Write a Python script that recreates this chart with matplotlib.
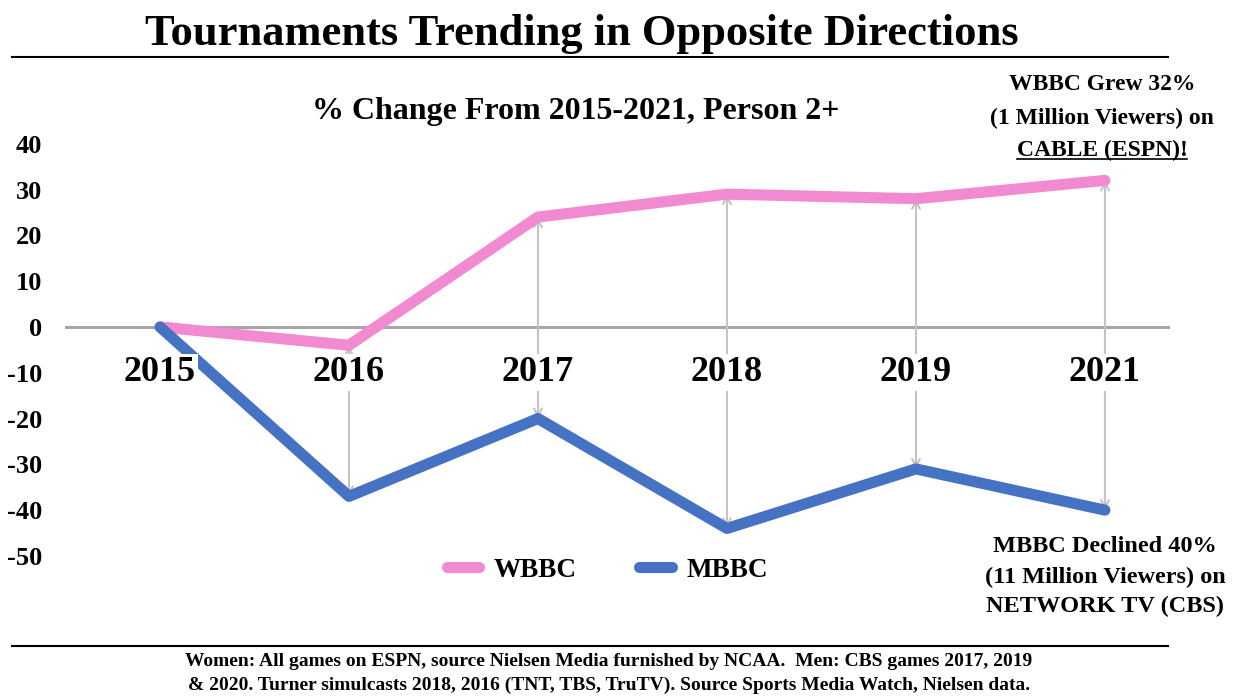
import matplotlib
matplotlib.use("Agg")
import matplotlib.pyplot as plt
from matplotlib.lines import Line2D
from matplotlib.patches import FancyArrowPatch

plt.rcParams["font.family"] = ["Liberation Serif", "DejaVu Serif"]
plt.rcParams["font.weight"] = "bold"

# Data: % change in viewers vs 2015, Persons 2+
years = ["2015", "2016", "2017", "2018", "2019", "2021"]
wbbc = [0, -4, 24, 29, 28, 32]
mbbc = [0, -37, -20, -44, -31, -40]
yticks = [40, 30, 20, 10, 0, -10, -20, -30, -40, -50]

PINK = "#F28AD2"
BLUE = "#4672C4"
ARROW_GREY = "#C4C4C4"

fig = plt.figure(figsize=(12.37, 6.96), dpi=100)
ax = fig.add_axes([0.0525, 0.1486, 0.8933, 0.658])

x = list(range(len(years)))
ax.plot(x, wbbc, color=PINK, lw=8, solid_capstyle="round",
        solid_joinstyle="round", zorder=3, label="WBBC")
ax.plot(x, mbbc, color=BLUE, lw=8, solid_capstyle="round",
        solid_joinstyle="round", zorder=3, label="MBBC")

# grey connectors between the two series for each year after 2015
for xi, w, m in zip(x[1:], wbbc[1:], mbbc[1:]):
    arr = FancyArrowPatch((xi, m), (xi, w), arrowstyle="<->",
                          mutation_scale=14, color=ARROW_GREY, lw=1.5,
                          shrinkA=0, shrinkB=0, zorder=2)
    ax.add_patch(arr)

ax.axhline(0, color="#A6A6A6", lw=2.2, zorder=1)

# year labels sit over the connectors with a white box
for xi, yr in zip(x, years):
    ax.text(xi, -10, yr, ha="center", va="center", fontsize=26,
            fontweight="bold", zorder=5,
            bbox=dict(facecolor="white", edgecolor="none", pad=1.5))

ax.set_xlim(-0.503, 5.344)
ax.set_ylim(-58, 42)
ax.set_xticks([])
ax.set_yticks(yticks)
ax.set_yticklabels([str(v) for v in yticks], fontsize=19, fontweight="bold")
ax.tick_params(axis="y", length=0, pad=16.5)
for s in ax.spines.values():
    s.set_visible(False)

leg = ax.legend(loc="center", bbox_to_anchor=(0.491, 0.181),
                bbox_transform=fig.transFigure, ncol=2, frameon=False,
                handlelength=1.2, columnspacing=2.3, handletextpad=0.55,
                prop=dict(size=19.5, weight="bold"))

# title block
fig.text(0.4705, 1 - 45 / 696, "Tournaments Trending in Opposite Directions",
         ha="center", va="baseline", fontsize=32, fontweight="bold")
fig.add_artist(Line2D([0.0097, 0.944], [0.918, 0.918], color="black", lw=1.5))
fig.text(0.465, 1 - 112 / 696, "% Change From 2015-2021, Person 2+",
         ha="center", va="center", fontsize=23, fontweight="bold")

# callouts
cx_top = 1102 / 1237
fig.text(cx_top, 1 - 84 / 696, "WBBC Grew 32%", ha="center", va="center",
         fontsize=17, fontweight="bold")
fig.text(cx_top, 1 - 118 / 696, "(1 Million Viewers) on", ha="center",
         va="center", fontsize=17, fontweight="bold")
cable = fig.text(cx_top, 1 - 150 / 696, "CABLE (ESPN)!", ha="center",
                 va="center", fontsize=17, fontweight="bold")

cx_bot = 1105 / 1237
fig.text(cx_bot, 1 - 546 / 696, "MBBC Declined 40%", ha="center", va="center",
         fontsize=17.5, fontweight="bold")
fig.text(cx_bot, 1 - 577 / 696, "(11 Million Viewers) on", ha="center",
         va="center", fontsize=17.5, fontweight="bold")
fig.text(cx_bot, 1 - 606 / 696, "NETWORK TV (CBS)", ha="center", va="center",
         fontsize=17.5, fontweight="bold")

# footer
fig.add_artist(Line2D([0.0097, 0.944], [0.0718, 0.0718], color="black", lw=1.5))
fig.text(0.492, 1 - 662 / 696,
         "Women: All games on ESPN, source Nielsen Media furnished by NCAA.  "
         "Men: CBS games 2017, 2019",
         ha="center", va="center", fontsize=14, fontweight="bold")
fig.text(0.492, 1 - 685 / 696,
         "& 2020. Turner simulcasts 2018, 2016 (TNT, TBS, TruTV). "
         "Source Sports Media Watch, Nielsen data.",
         ha="center", va="center", fontsize=14, fontweight="bold")

# underline the cable callout
fig.canvas.draw()
bb = cable.get_window_extent().transformed(fig.transFigure.inverted())
uy = bb.y0 + 0.002
fig.add_artist(Line2D([bb.x0, bb.x1], [uy, uy], color="black", lw=1.2))

fig.savefig("out.png", dpi=100, facecolor="white")
